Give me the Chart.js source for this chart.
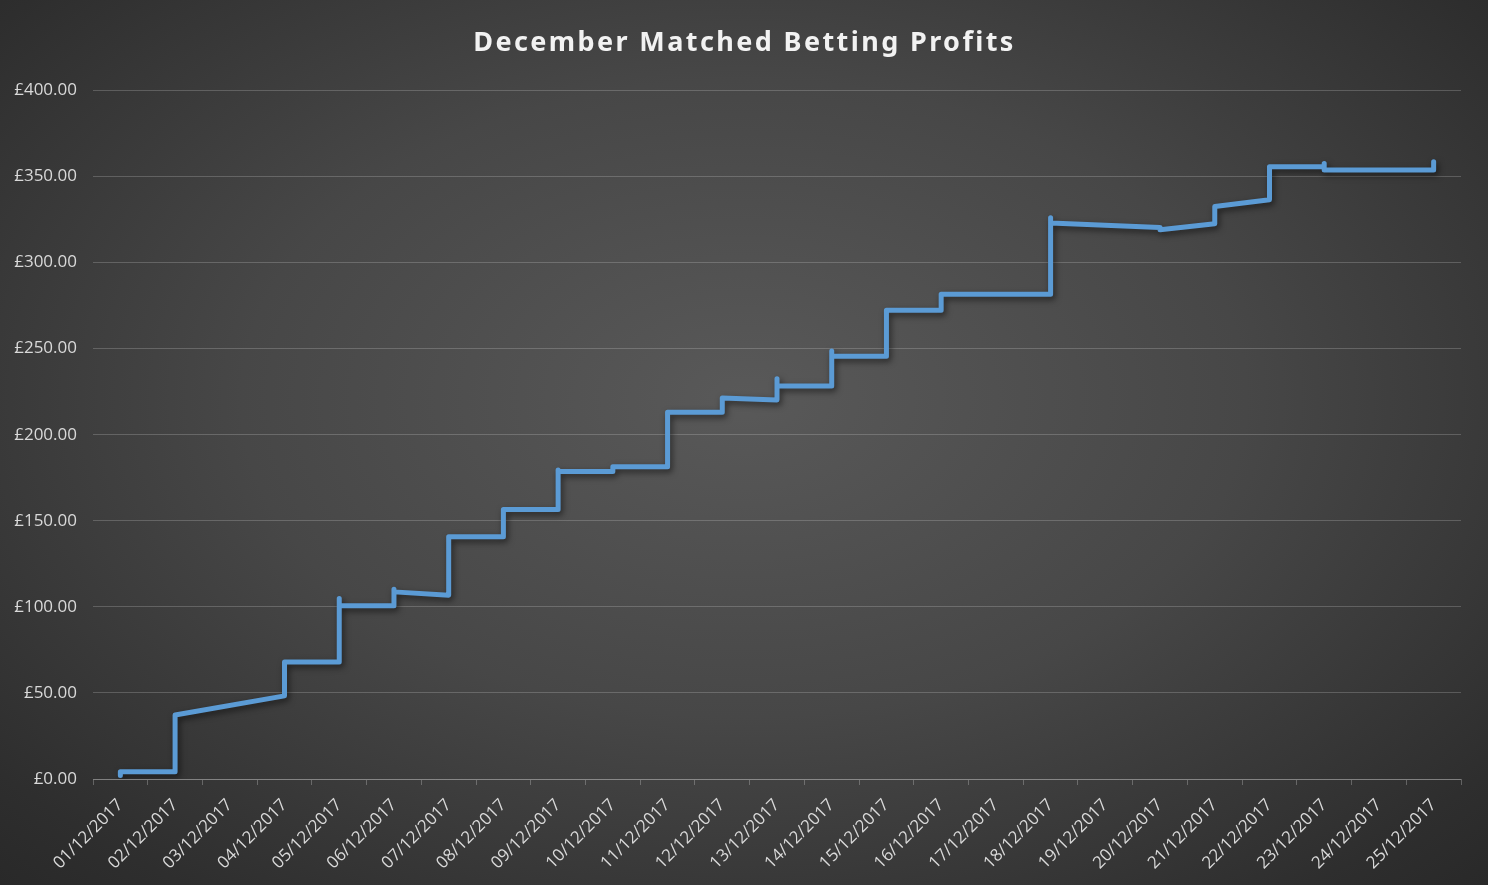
<!DOCTYPE html>
<html>
<head>
<meta charset="utf-8">
<script src="https://cdn.jsdelivr.net/npm/chart.js@4/dist/chart.umd.min.js"></script>
<style>
  html, body { margin: 0; padding: 0; }
  body { width: 1488px; height: 885px; overflow: hidden; }
  #wrap {
    width: 1488px; height: 885px;
    background: radial-gradient(ellipse 75% 80% at 50% 45%, #595959 0%, #474747 45%, #2e2e2e 85%, #272727 100%);
  }
  canvas { display: block; }
</style>
</head>
<body>
<div id="wrap"><canvas id="graph" width="1488" height="885"></canvas></div>
<script>
// x axis categories (one per day)
var dateLabels = ['01/12/2017', '02/12/2017', '03/12/2017', '04/12/2017', '05/12/2017',
  '06/12/2017', '07/12/2017', '08/12/2017', '09/12/2017', '10/12/2017', '11/12/2017',
  '12/12/2017', '13/12/2017', '14/12/2017', '15/12/2017', '16/12/2017', '17/12/2017',
  '18/12/2017', '19/12/2017', '20/12/2017', '21/12/2017', '22/12/2017', '23/12/2017',
  '24/12/2017', '25/12/2017'];

// running total: day of month for each entry and its profit
var pointDays = [1, 1, 2, 2, 4, 4, 5, 5, 5, 6, 6, 6, 7, 7, 8, 8, 9, 9, 9, 10, 10,
  11, 11, 12, 12, 13, 13, 13, 14, 14, 14, 15, 15, 16, 16, 18, 18, 18, 20, 20,
  21, 21, 22, 22, 23, 23, 23, 25, 25];
var profits = [2, 4.2, 4.2, 37.2, 48.3, 68, 68, 104.8, 100.6, 100.6, 110.2, 108.7,
  106.8, 140.7, 140.7, 156.6, 156.6, 179.5, 178.6, 178.6, 181.4, 181.4, 213,
  213, 221.3, 220.2, 232.5, 228.3, 228.3, 248.6, 245.6, 245.6, 272.3, 272.3, 281.6,
  281.6, 326, 323, 320.3, 319, 322.6, 332.6, 336.5, 355.7, 355.7, 357.5, 353.8,
  353.8, 358.5];

// y axis ticks
var yTicks = [0, 50, 100, 150, 200, 250, 300, 350, 400];

var points = pointDays.map(function (d, i) { return { x: d, y: profits[i] }; });

var textColor = '#d9d9d9';
var gridColor = 'rgba(217,217,217,0.24)';

// drop shadow under the line, like the spreadsheet style
var lineShadow = {
  id: 'lineShadow',
  beforeDatasetsDraw: function (chart) {
    var c = chart.ctx;
    c.save();
    c.shadowColor = 'rgba(0,0,0,0.55)';
    c.shadowBlur = 6;
    c.shadowOffsetX = 2;
    c.shadowOffsetY = 3;
  },
  afterDatasetsDraw: function (chart) {
    chart.ctx.restore();
  }
};

// spaced-out title lettering, centred on the whole canvas
var titleSpacing = {
  id: 'titleSpacing',
  afterLayout: function (chart) {
    var tb = chart.titleBlock;
    if (!tb || tb._spaced) return;
    var orig = tb.draw;
    tb.draw = function () {
      var c = this.ctx;
      c.save();
      c.letterSpacing = '2.4px';
      c.translate(14, 0);
      orig.apply(this, arguments);
      c.restore();
    };
    tb._spaced = true;
  }
};

var ctx = document.getElementById('graph');
var chart = new Chart(ctx, {
  type: 'line',
  data: {
    datasets: [{
      label: 'Profit',
      data: points,
      borderColor: '#5b9bd5',
      borderWidth: 5,
      borderCapStyle: 'round',
      borderJoinStyle: 'round',
      pointRadius: 0,
      tension: 0,
      fill: false
    }]
  },
  options: {
    responsive: false,
    animation: false,
    devicePixelRatio: 1,
    layout: { padding: { left: 0, right: 27, top: 0, bottom: 0 } },
    plugins: {
      legend: { display: false },
      tooltip: { enabled: false },
      title: {
        display: true,
        text: 'December Matched Betting Profits',
        color: '#f2f2f2',
        font: { family: 'Noto Sans', size: 27, weight: 'bold' },
        padding: { top: 27, bottom: 31 }
      }
    },
    scales: {
      // tick marks between the days
      xt: {
        type: 'linear',
        position: 'bottom',
        weight: 0,
        min: 0.5,
        max: 25.5,
        afterBuildTicks: function (scale) {
          scale.ticks = dateLabels.concat(['']).map(function (_, i) { return { value: i + 0.5 }; });
        },
        ticks: { display: false },
        grid: { drawOnChartArea: false, color: 'rgba(217,217,217,0.3)', tickLength: 6 },
        border: { display: true, color: 'rgba(217,217,217,0.3)' },
        afterFit: function (scale) { scale.height = 6; }
      },
      x: {
        type: 'linear',
        position: 'bottom',
        weight: 1,
        min: 0.5,
        max: 25.5,
        afterBuildTicks: function (scale) {
          scale.ticks = dateLabels.map(function (_, i) { return { value: i + 1 }; });
        },
        ticks: {
          autoSkip: false,
          minRotation: 45,
          maxRotation: 45,
          padding: 2,
          color: textColor,
          font: { family: 'Open Sans', size: 17 },
          callback: function (v) { return dateLabels[v - 1]; }
        },
        grid: { display: false },
        border: { display: false },
        afterFit: function (scale) { scale.height = 100; }
      },
      y: {
        min: 0,
        max: 400,
        afterBuildTicks: function (scale) {
          scale.ticks = yTicks.map(function (v) { return { value: v }; });
        },
        ticks: {
          color: textColor,
          padding: 16,
          font: { family: 'Open Sans', size: 17 },
          callback: function (v) { return '£' + v.toFixed(2); }
        },
        grid: { color: gridColor, drawTicks: false },
        border: { display: false },
        afterFit: function (scale) { scale.width = 93; }
      }
    }
  },
  plugins: [lineShadow, titleSpacing]
});
chart.draw();
</script>
</body>
</html>
